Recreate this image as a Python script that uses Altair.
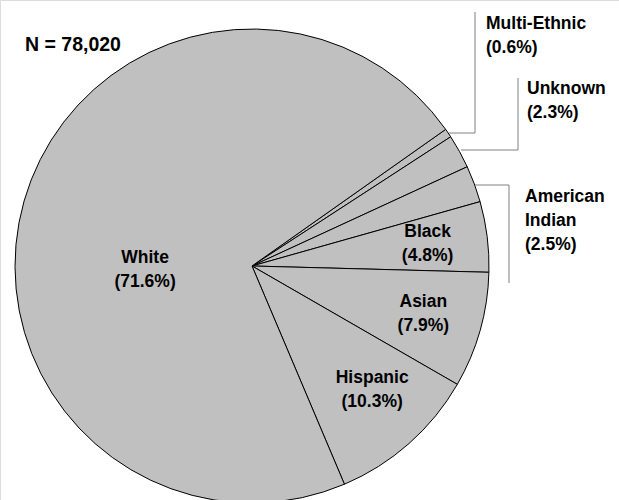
import altair as alt
import pandas as pd
import math

# Data
groups = ["Multi-Ethnic", "Unknown", "American Indian", "Black", "Asian", "Hispanic", "White"]
shares = [0.6, 2.3, 2.5, 4.8, 7.9, 10.3, 71.6]
labels = ["Multi-Ethnic\n(0.6%)", "Unknown\n(2.3%)", "American\nIndian\n(2.5%)",
          "Black\n(4.8%)", "Asian\n(7.9%)", "Hispanic\n(10.3%)", "White\n(71.6%)"]
total_n = "N = 78,020"

# Layout
CX, CY, R = 252, 266, 237
START = math.radians(54.8)

df = pd.DataFrame({"group": groups, "share": shares, "label": labels,
                   "order": list(range(len(groups)))})

cum = 0
lab_theta, lab_r = [], []
inside_r = {"Black": 177, "Asian": 178, "Hispanic": 173, "White": 107}
theta_adj = {"White": -18, "Hispanic": -2.5}
for g, s in zip(groups, shares):
    mid = START + 2 * math.pi * (cum + s / 2) / 100
    cum += s
    lab_theta.append(mid + math.radians(theta_adj.get(g, 0)))
    lab_r.append(inside_r.get(g, 0))
df["lt"] = lab_theta
df["lr"] = lab_r
df["inside"] = [g in inside_r for g in groups]

base = alt.Chart(df)

pie = base.mark_arc(outerRadius=R, stroke="black", strokeWidth=1, fill="#c0c0c0").encode(
    theta=alt.Theta("share:Q", stack=True,
                    scale=alt.Scale(range=[START, START + 2 * math.pi])),
    order=alt.Order("order:Q"),
    x=alt.value(CX), y=alt.value(CY),
)

font = "Liberation Sans"
FS = 17.5
LH = 24

inside_txt = base.transform_filter("datum.inside").mark_text(
    font=font, fontSize=FS, fontWeight="bold", lineBreak="\n", lineHeight=LH,
    align="center", baseline="middle", color="black", dy=-12
).encode(
    theta=alt.Theta("lt:Q", scale=None),
    radius=alt.Radius("lr:Q", scale=None),
    x=alt.value(CX), y=alt.value(CY),
    text="label:N",
)

out_df = pd.DataFrame({
    "label": ["Multi-Ethnic\n(0.6%)", "Unknown\n(2.3%)", "American\nIndian\n(2.5%)"],
    "x": [486, 527, 525],
    "y": [24, 89, 197],
})
outside_txt = alt.Chart(out_df).mark_text(
    font=font, fontSize=FS, fontWeight="bold", lineBreak="\n", lineHeight=LH,
    align="left", baseline="middle", color="black"
).encode(
    x=alt.X("x:Q", scale=None), y=alt.Y("y:Q", scale=None), text="label:N"
)

n_txt = alt.Chart(pd.DataFrame({"label": [total_n]})).mark_text(
    font=font, fontSize=19.5, fontWeight="bold", align="left", baseline="middle", color="black"
).encode(x=alt.value(25), y=alt.value(45), text="label:N")

lead_df = pd.DataFrame({
    "seg": ["m", "m", "m", "u", "u", "u", "a", "a", "a"],
    "i": [0, 1, 2, 0, 1, 2, 0, 1, 2],
    "x": [449, 475, 475, 461, 518, 518, 475, 509, 509],
    "y": [133, 133, 12, 150, 150, 78, 185, 185, 283],
})
leaders = alt.Chart(lead_df).mark_line(color="#808080", strokeWidth=1).encode(
    x=alt.X("x:Q", scale=None), y=alt.Y("y:Q", scale=None),
    detail="seg:N", order="i:Q",
)

chart = alt.layer(pie, leaders, inside_txt, outside_txt, n_txt).properties(
    width=619, height=500, autosize=alt.AutoSizeParams(type="none"), padding=0
).configure_view(stroke=None).configure(background="white")

chart.save("out.html", embed_options={"renderer": "svg", "actions": False})
